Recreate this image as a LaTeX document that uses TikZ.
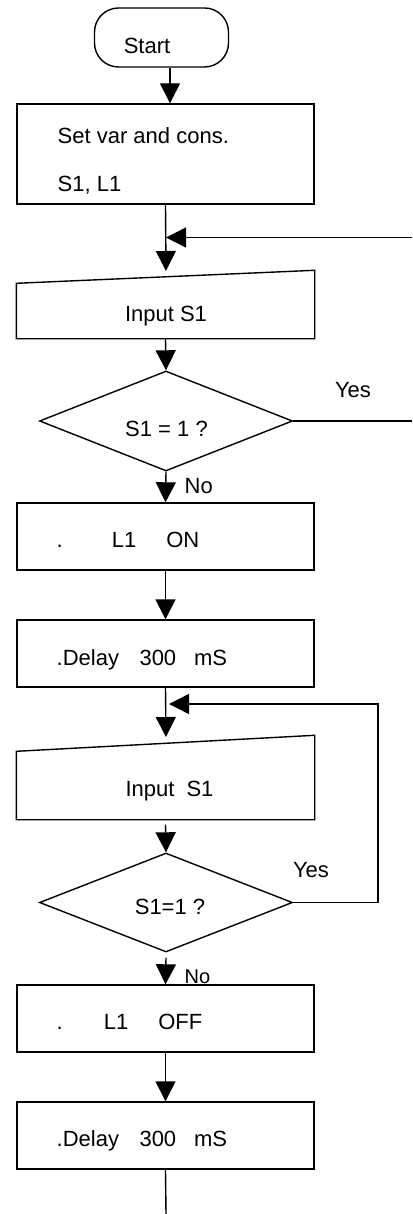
\documentclass[tikz,border=0pt]{standalone}
\usepackage{fontspec}
\setmainfont{Liberation Sans}
\usetikzlibrary{arrows.meta,shapes.geometric}
\begin{document}
\begin{tikzpicture}[x=1pt,y=-1pt,
  line width=1.4pt,
  box/.style={draw, rectangle, minimum width=297pt, inner sep=0pt},
  ghost/.style={rectangle, minimum width=297pt, inner sep=0pt},
  dec/.style={draw, diamond, minimum width=253pt, inner sep=0pt},
  term/.style={draw, rectangle, rounded corners=24pt, minimum width=134pt, minimum height=59pt},
  txt/.style={inner sep=0pt, font=\fontsize{22}{26}\selectfont},
  lbl/.style={inner sep=0pt, font=\fontsize{20}{24}\selectfont},
  arr/.style={-{Triangle[width=20pt,length=20pt]}},
]
\useasboundingbox (0,0) rectangle (412,1214);

% shapes
\node[term] (start) at (161.5,37.5) {};
\node[box, minimum height=100pt] (box1) at (165.5,154) {};
\node[ghost, minimum height=67pt] (in1) at (165.5,304.5) {};
\draw (in1.south west) -- ([yshift=-13pt]in1.north west) -- (in1.north east) -- (in1.south east) -- cycle;
\node[dec, minimum height=100pt] (d1) at (166,421) {};
\node[box, minimum height=67pt] (b2) at (165.5,536.5) {};
\node[box, minimum height=67pt] (b3) at (165.5,653.5) {};
\node[ghost, minimum height=83pt] (in2) at (165.5,777.5) {};
\draw (in2.south west) -- ([yshift=-16pt]in2.north west) -- (in2.north east) -- (in2.south east) -- cycle;
\node[dec, minimum height=99pt] (d2) at (166,902.5) {};
\node[box, minimum height=67pt] (b4) at (165.5,1018.5) {};
\node[box, minimum height=67pt] (b5) at (165.5,1135.5) {};

% texts
\node[txt, anchor=base] (tstart) at (147,53.5) {Start};
\node[txt, anchor=base west] (tset1) at (57,143.5) {Set var and cons.};
\node[txt, anchor=base west] (tset2) at (57,192) {S1, L1};
\node[txt, anchor=base] (tin1) at (166,321.5) {Input S1};
\node[txt, anchor=base] (td1) at (166.5,436.5) {S1 = 1 ?};
\node[txt, anchor=base] (tyes1) at (353,397) {Yes};
\node[txt, anchor=base west] (tno1) at (184,493) {No};
\node[txt, anchor=base west] (tb2) at (56,547) {.\hspace{49pt}L1\hspace{30pt}ON};
\node[txt, anchor=base west] (tb3) at (56,665) {.Delay\hspace{20.5pt}300\hspace{17.8pt}mS};
\node[txt, anchor=base] (tin2) at (169.5,796.5) {Input\hspace{12pt}S1};
\node[txt, anchor=base] (td2) at (170,914) {S1=1 ?};
\node[txt, anchor=base] (tyes2) at (311,877.5) {Yes};
\node[lbl, anchor=base west] (tno2) at (184,983) {No};
\node[txt, anchor=base west] (tb4) at (56,1029) {.\hspace{41pt}L1\hspace{30pt}OFF};
\node[txt, anchor=base west] (tb5) at (56,1146.5) {.Delay\hspace{20.5pt}300\hspace{17.8pt}mS};

% coordinates
\coordinate (j1) at (166,271);
\coordinate (r1) at (412,237.5);
\coordinate (m1) at (166,237.5);
\coordinate (r2) at (412,421);
\coordinate (j2) at (166,737);
\coordinate (lp) at (378,704);
\coordinate (m2) at (169,704);
\coordinate (fin) at (166,1214);

% connectors
\draw[arr] ([xshift=8.5pt]start.south) -- ([xshift=4.5pt]box1.north);
\draw[arr] (box1.south) -- (j1);
\draw[arr] (r1) -- (m1);
\draw[arr] (in1.south) -- (d1.north);
\draw (d1.east) -- (r2);
\draw[arr] (d1.south) -- (b2.north);
\draw[arr] (b2.south) -- (b3.north);
\draw[arr] (b3.south) -- (j2);
\draw[arr] (d2.east) -| (lp) -- (m2);
\draw[arr] ([yshift=-5pt]in2.south) -- (d2.north);
\draw[arr] ([yshift=-5pt]d2.south) -- (b4.north);
\draw[arr] (b4.south) -- (b5.north);
\draw (b5.south) -- (fin);
\end{tikzpicture}
\end{document}
